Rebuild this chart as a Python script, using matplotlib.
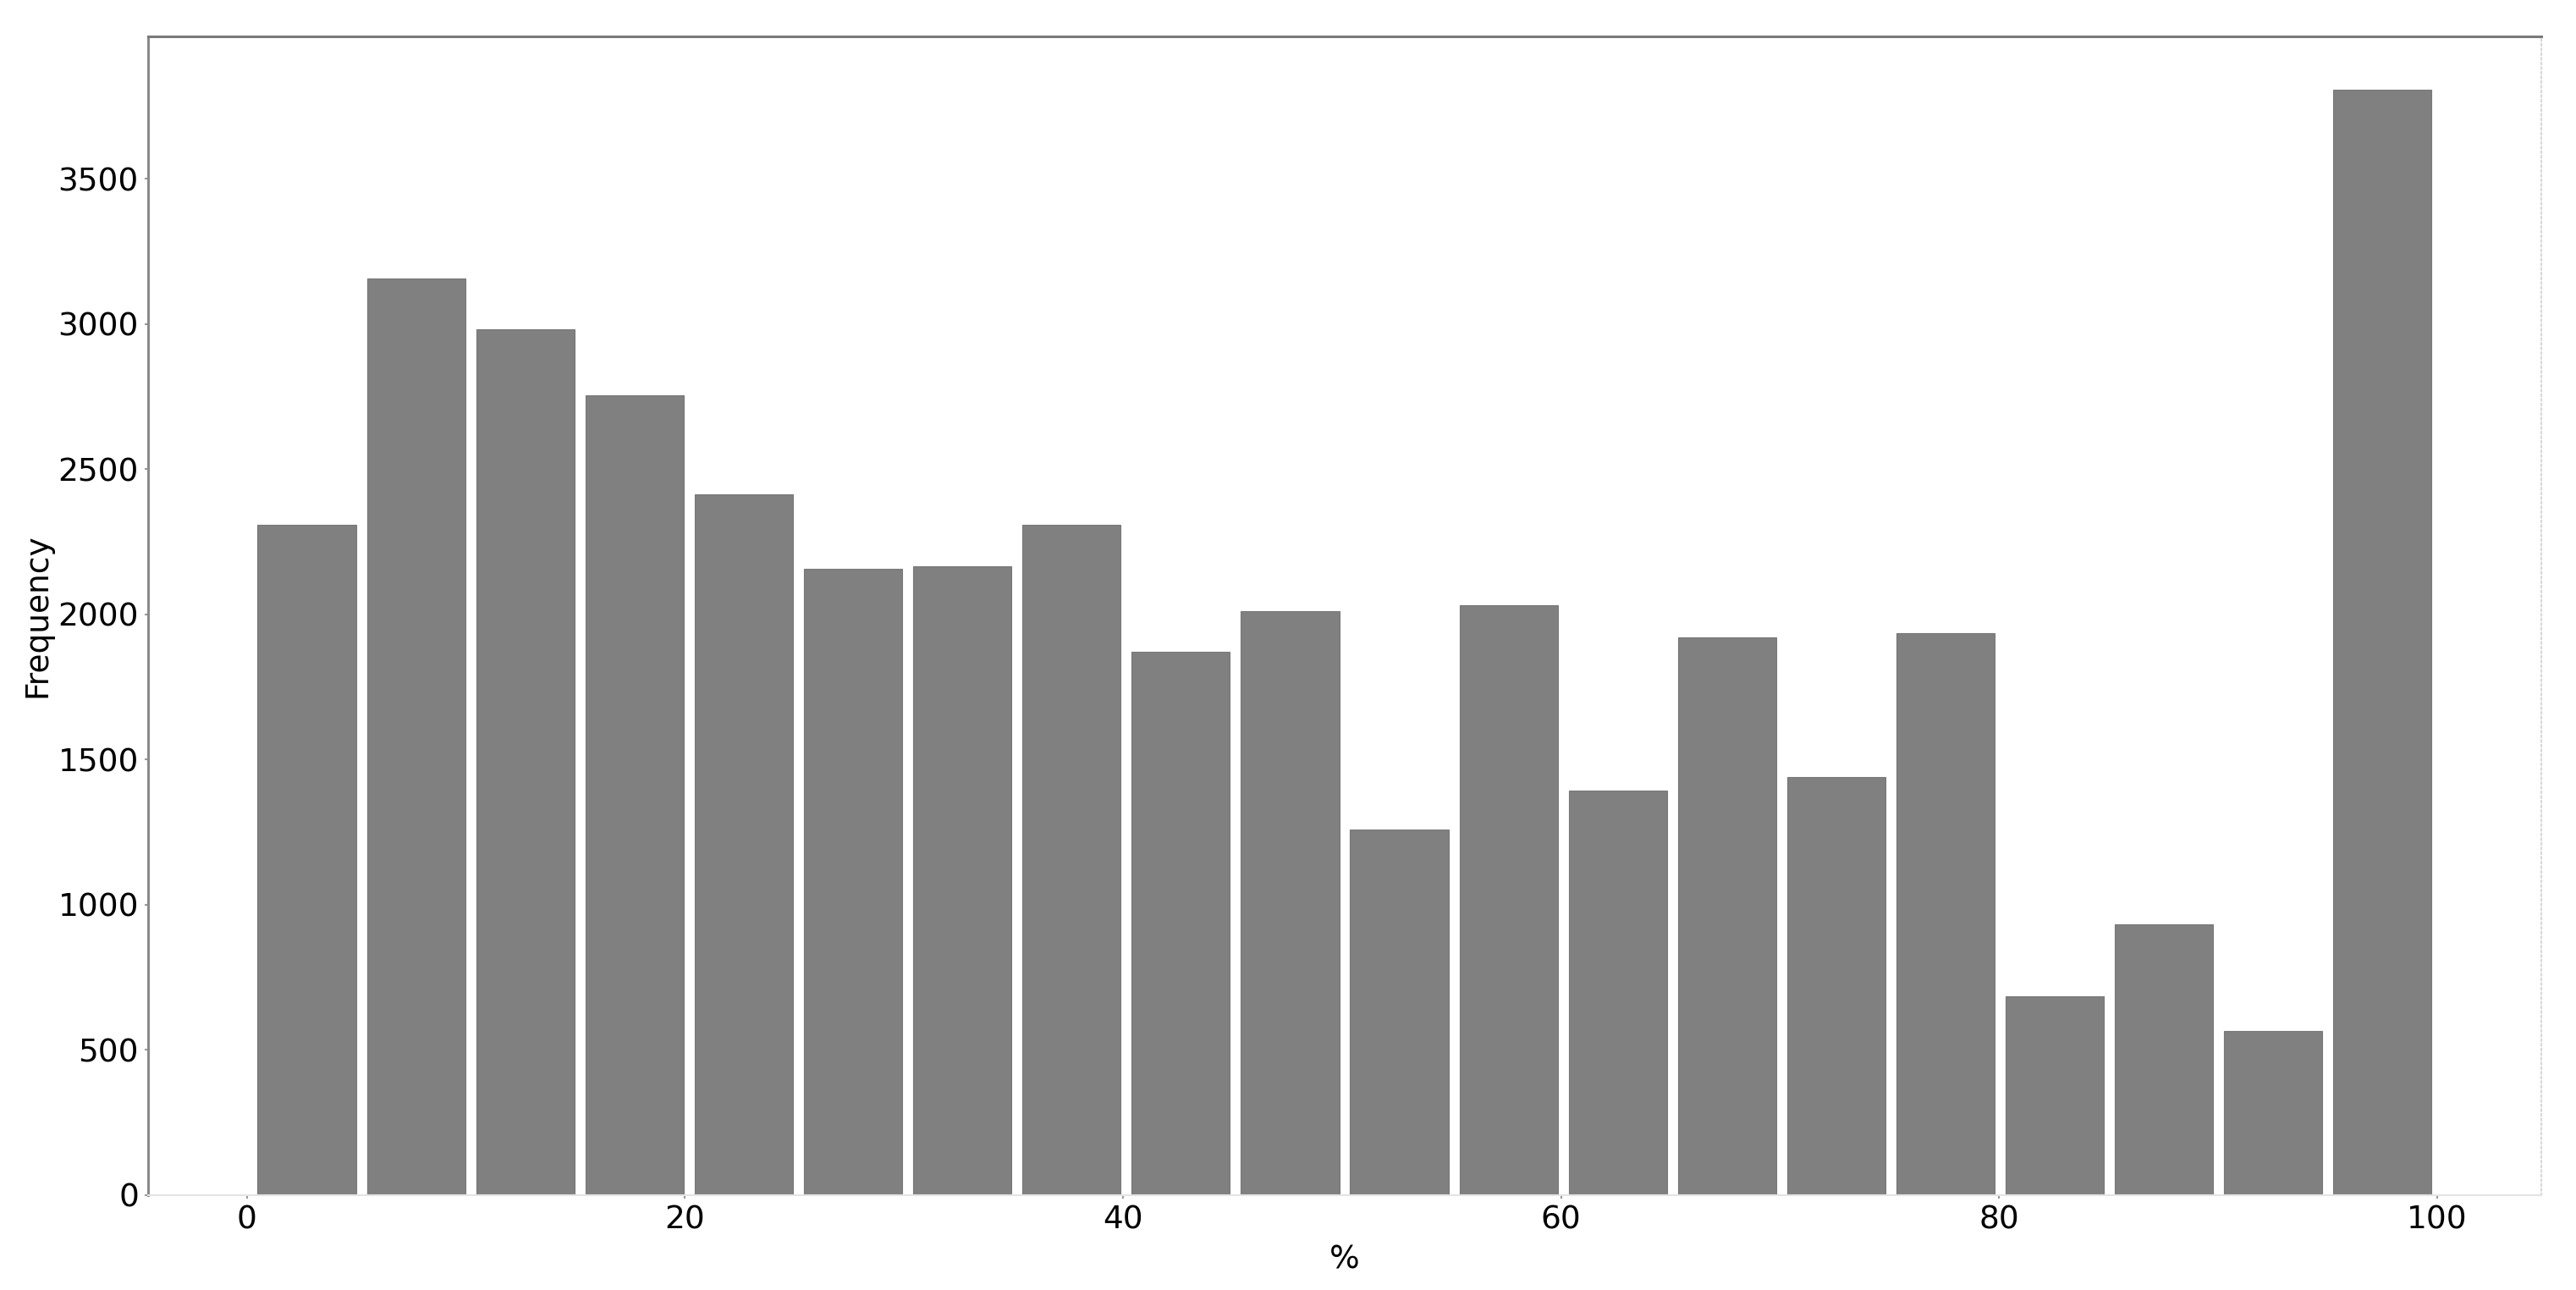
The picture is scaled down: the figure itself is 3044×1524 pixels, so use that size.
import matplotlib
matplotlib.use("Agg")
import matplotlib.pyplot as plt
import numpy as np

# histogram counts (20 bins)
counts = [2309, 3155, 2982, 2755, 2414, 2157, 2166, 2309, 1872, 2012,
          1259, 2032, 1394, 1921, 1440, 1936, 685, 933, 566, 3805]
x_min, x_max = 0.25, 100.0
x_ticks = [0, 20, 40, 60, 80, 100]
y_ticks = [0, 500, 1000, 1500, 2000, 2500, 3000, 3500]

edges = np.linspace(x_min, x_max, len(counts) + 1)
centers = (edges[:-1] + edges[1:]) / 2

fig = plt.figure(figsize=(30.44, 15.24), dpi=100)
ax = fig.add_axes([0.0575, 0.0735, 0.929, 0.8983])

ax.hist(centers, bins=edges, weights=counts, rwidth=0.9,
        color='#808080', edgecolor='#787878', linewidth=0.8)

ax.set_xlim(-4.5, 104.75)
ax.set_ylim(0, 3990)
ax.set_xticks(x_ticks)
ax.set_yticks(y_ticks)
ax.tick_params(labelsize=27, length=3, width=1.5, color='#999999', pad=5)

ax.set_xlabel('%', fontsize=27, labelpad=8)
ax.set_ylabel('Frequency', fontsize=27, labelpad=4)

# spines: dark top/left, pale bottom/right
ax.spines['top'].set_color('#7a7a7a')
ax.spines['top'].set_linewidth(2.2)
ax.spines['left'].set_color('#8a8a8a')
ax.spines['left'].set_linewidth(2.2)
ax.spines['bottom'].set_color('#e4e4e4')
ax.spines['bottom'].set_linewidth(1.5)
ax.spines['right'].set_color('#d8d8d8')
ax.spines['right'].set_linewidth(1.5)
ax.spines['right'].set_linestyle(':')

plt.savefig('out.png', dpi=100)
